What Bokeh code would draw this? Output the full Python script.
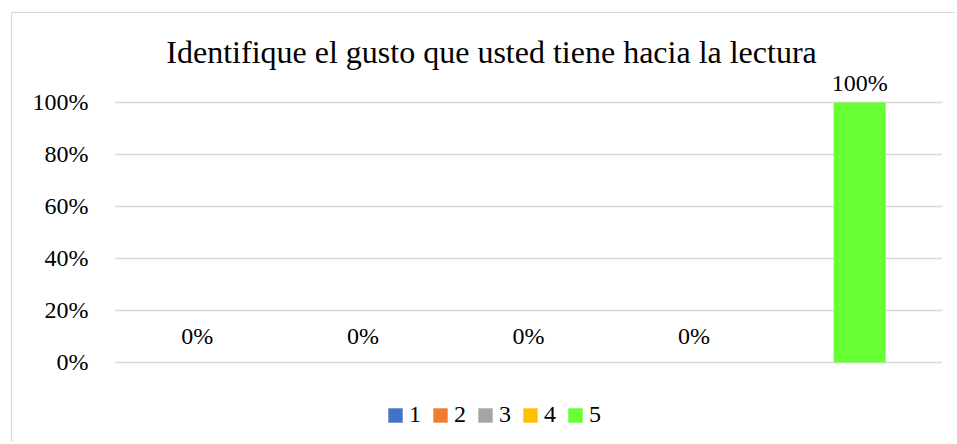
from bokeh.plotting import figure
from bokeh.models import ColumnDataSource, NumeralTickFormatter, FixedTicker, Legend, LegendItem
from bokeh.core.properties import value
from bokeh.embed import file_html
from bokeh.resources import INLINE

# ---- data ----
title_text = "Identifique el gusto que usted tiene hacia la lectura"
categories = ["1", "2", "3", "4", "5"]
percentages = [0.0, 0.0, 0.0, 0.0, 1.0]
colors = ["#4472C4", "#ED7D31", "#A5A5A5", "#FFC000", "#66FF33"]
y_ticks = [0.0, 0.2, 0.4, 0.6, 0.8, 1.0]

FONT = "Liberation Serif"

xs = list(range(1, len(categories) + 1))
labels = [f"{round(v * 100)}%" for v in percentages]
label_offsets = [-19 if v > 0 else -26 for v in percentages]

src = ColumnDataSource(dict(x=xs, top=percentages, color=colors, cat=categories,
                            label=labels, off=label_offsets))

p = figure(width=944, height=430, output_backend="svg", toolbar_location=None,
           x_range=(0.5, 5.5), y_range=(-0.2923, 1.3038), x_axis_location=None,
           min_border_left=102, min_border_right=14, min_border_top=10, min_border_bottom=5,
           styles={"margin-left": "11px", "margin-top": "12px",
                   "border-left": "1.5px solid #d9d9d9", "border-top": "1.5px solid #d9d9d9"})
p.outline_line_color = None
p.background_fill_color = "white"
p.border_fill_color = "white"

p.xgrid.visible = False
p.ygrid.grid_line_color = "#d9d9d9"
p.ygrid.grid_line_width = 1.5
p.yaxis.ticker = FixedTicker(ticks=y_ticks)
p.yaxis.formatter = NumeralTickFormatter(format="0%")
p.yaxis.axis_line_color = None
p.yaxis.major_tick_line_color = None
p.yaxis.minor_tick_line_color = None
p.yaxis.major_tick_out = 0
p.yaxis.major_tick_in = 0
p.yaxis.major_label_standoff = 26
p.yaxis.major_label_text_font = FONT
p.yaxis.major_label_text_font_size = "24px"
p.yaxis.major_label_text_color = "#000000"

bars = p.vbar(x="x", top="top", bottom=0, width=0.314, fill_color="color",
              line_color=None, source=src)

p.text(x="x", y="top", text="label", y_offset="off", source=src,
       text_align="center", text_baseline="alphabetic",
       text_font=value(FONT), text_font_size="24px", text_color="#000000")

# title
p.text(x=[2.777], y=[1.195], text=[title_text], text_align="center",
       text_baseline="alphabetic", text_font=value(FONT), text_font_size="32px",
       text_color="#000000")

items = [LegendItem(label=c, renderers=[bars], index=i) for i, c in enumerate(categories)]
legend = Legend(items=items, orientation="horizontal", location=(272, 10),
                glyph_width=18, glyph_height=18, label_standoff=5, spacing=10,
                label_width=12, padding=0, margin=0, border_line_color=None,
                background_fill_alpha=0, label_text_font=FONT,
                label_text_font_size="24px", label_text_color="#000000")
p.add_layout(legend, "center")

open("out.html", "w").write(file_html(p, INLINE))
